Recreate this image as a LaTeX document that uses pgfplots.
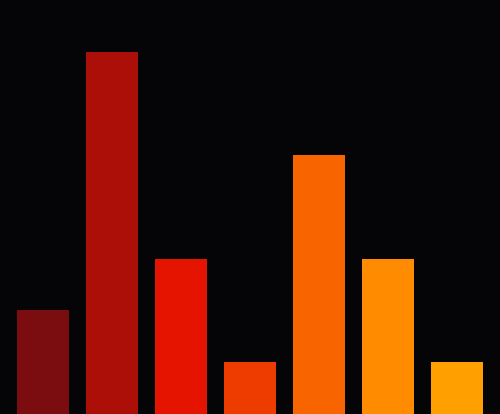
\documentclass[border=0pt]{standalone}
\usepackage{pgfplots}
\pgfplotsset{compat=1.18}
\definecolor{bg}{HTML}{050407}
\definecolor{c1}{HTML}{7B0C10}
\definecolor{c2}{HTML}{AC0F08}
\definecolor{c3}{HTML}{E41400}
\definecolor{c4}{HTML}{EE3B00}
\definecolor{c5}{HTML}{F86400}
\definecolor{c6}{HTML}{FF8C00}
\definecolor{c7}{HTML}{FFA000}
\begin{document}
\begin{tikzpicture}
\begin{axis}[
  width=500pt, height=414pt, scale only axis,
  xmin=-0.6232, xmax=6.6232, ymin=0, ymax=8,
  axis lines=none, ticks=none,
  axis background/.style={fill=bg},
  ybar, bar width=0.7536, bar shift=0pt,
  clip=true,
]
\addplot[fill=c1, draw=none] coordinates {(0,2)};
\addplot[fill=c2, draw=none] coordinates {(1,7)};
\addplot[fill=c3, draw=none] coordinates {(2,3)};
\addplot[fill=c4, draw=none] coordinates {(3,1)};
\addplot[fill=c5, draw=none] coordinates {(4,5)};
\addplot[fill=c6, draw=none] coordinates {(5,3)};
\addplot[fill=c7, draw=none] coordinates {(6,1)};
\end{axis}
\end{tikzpicture}
\end{document}
